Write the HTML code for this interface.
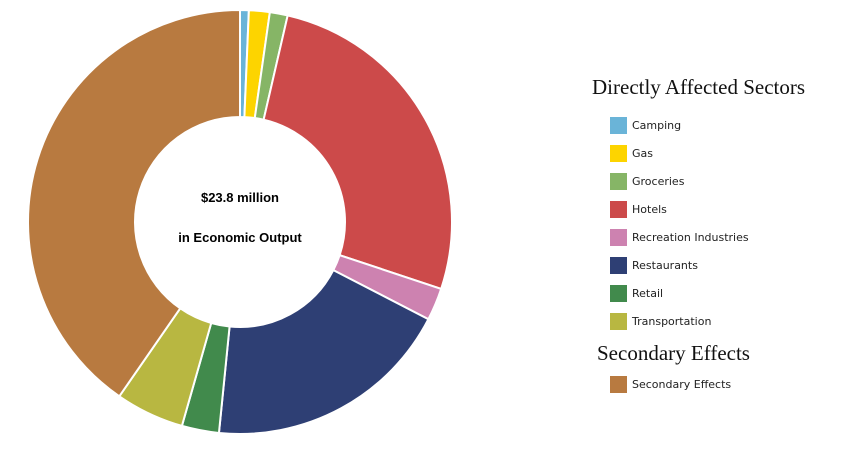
<!DOCTYPE html>
<html><head><meta charset="utf-8"><style>
body{margin:0;background:#fff;width:841px;height:457px;overflow:hidden}
svg{position:absolute;left:0;top:0}
</style></head><body>
<svg id="s" width="841" height="457" xmlns="http://www.w3.org/2000/svg">
<g id="d"></g>
<text x="240" y="202" text-anchor="middle" font-family="Liberation Sans, sans-serif" font-size="13" font-weight="bold">$23.8 million</text>
<text x="240" y="242" text-anchor="middle" font-family="Liberation Sans, sans-serif" font-size="13" font-weight="bold">in Economic Output</text>
<g font-family="Liberation Serif, serif" font-size="21" fill="#111">
<text x="592" y="94">Directly Affected Sectors</text>
<text x="597" y="360">Secondary Effects</text>
</g>
<g id="lg" font-family="DejaVu Sans, sans-serif" font-size="11" fill="#222"></g>
</svg>
<script>
var cx=240,cy=222,R=212,r=105;
var seg=[[0,2.4,"#6ab4d8"],[2.4,8.1,"#fdd400"],[8.1,13,"#86b566"],[13,108.4,"#cc4a4a"],[108.4,117.3,"#cd82b0"],[117.3,185.7,"#2e3f74"],[185.7,195.9,"#418a4c"],[195.9,214.7,"#b8b741"],[214.7,360,"#b87a40"]];
function p(a,rad){a=a*Math.PI/180;return (cx+rad*Math.sin(a)).toFixed(2)+","+(cy-rad*Math.cos(a)).toFixed(2);}
var h="";
seg.forEach(function(s){var a0=s[0],a1=s[1]-0.0001,l=(a1-a0)>180?1:0;
h+='<path d="M'+p(a0,R)+' A'+R+','+R+' 0 '+l+' 1 '+p(a1,R)+' L'+p(a1,r)+' A'+r+','+r+' 0 '+l+' 0 '+p(a0,r)+' Z" fill="'+s[2]+'" stroke="#fff" stroke-width="2"/>';});
document.getElementById("d").innerHTML=h;
var L=[["Camping","#6ab4d8",125],["Gas","#fdd400",153],["Groceries","#86b566",181],["Hotels","#cc4a4a",209],["Recreation Industries","#cd82b0",237],["Restaurants","#2e3f74",265],["Retail","#418a4c",293],["Transportation","#b8b741",321],["Secondary Effects","#b87a40",384]];
var g="";
L.forEach(function(l){g+='<rect x="610" y="'+(l[2]-8)+'" width="17" height="17" fill="'+l[1]+'"/><text x="632" y="'+(l[2]+4)+'">'+l[0]+'</text>';});
document.getElementById("lg").innerHTML=g;
</script>
</body></html>
